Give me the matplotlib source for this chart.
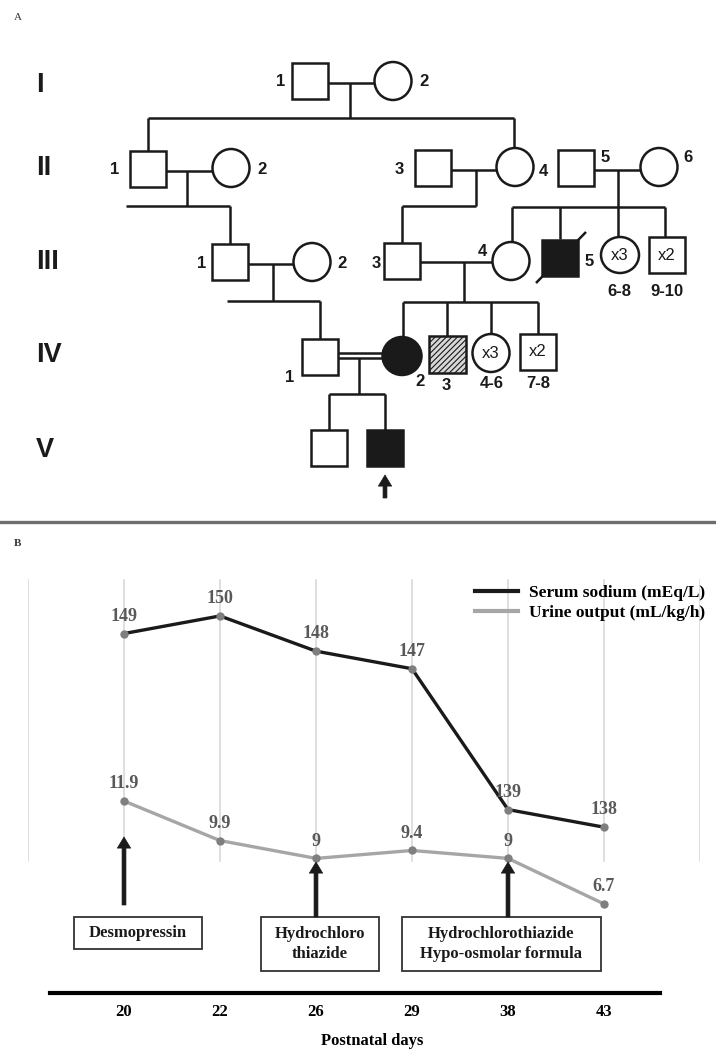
import matplotlib
matplotlib.use('Agg')
import matplotlib.pyplot as plt
from matplotlib.patches import Rectangle, Ellipse
from matplotlib.lines import Line2D

# panel B data
days = ['20', '22', '26', '29', '38', '43']
sodium = [149, 150, 148, 147, 139, 138]
urine = [11.9, 9.9, 9, 9.4, 9, 6.7]
sodium_name = 'Serum sodium (mEq/L)'
urine_name = 'Urine output (mL/kg/h)'
treat_idx = [0, 2, 4]
treat_text = ['Desmopressin', 'Hydrochloro\nthiazide', 'Hydrochlorothiazide\nHypo-osmolar formula']
generations = ['I', 'II', 'III', 'IV', 'V']

W, H = 716, 1059
fig = plt.figure(figsize=(W / 100, H / 100), dpi=100)
ov = fig.add_axes([0, 0, 1, 1])
ov.set_xlim(0, W)
ov.set_ylim(H, 0)
ov.axis('off')
ov.set_zorder(5)

INK = '#1a1a1a'
SANS = 'Liberation Sans'
SERIF = 'Liberation Serif'
ARROW = 'simple,head_width=1.2,head_length=1.0,tail_width=0.35'


def ln(xs, ys, lw=1.8):
    ov.plot(xs, ys, color=INK, lw=lw, solid_capstyle='butt')


def sq(x, y, s=36, fc='white', hatch=None, txt=None):
    ov.add_patch(Rectangle((x - s / 2, y - s / 2), s, s, fc=fc, ec=INK, lw=1.8, hatch=hatch, zorder=3))
    if txt:
        ov.text(x, y, txt, ha='center', va='center', fontsize=12, family=SANS, color=INK, zorder=4)


def ci(x, y, w=37, h=38, fc='white', txt=None):
    ov.add_patch(Ellipse((x, y), w, h, fc=fc, ec=INK, lw=1.8, zorder=3))
    if txt:
        ov.text(x, y, txt, ha='center', va='center', fontsize=12, family=SANS, color=INK, zorder=4)


def num(x, y, s):
    ov.text(x, y, s, ha='center', va='center', fontsize=12, family=SANS, fontweight='bold', color=INK)


def arrow(xp, y_tail, y_tip):
    ov.annotate('', xy=(xp, y_tip), xytext=(xp, y_tail),
                arrowprops=dict(arrowstyle=ARROW, fc=INK, ec=INK, lw=0.5,
                                shrinkA=0, shrinkB=0, mutation_scale=8))


# ---------------- panel A: pedigree ----------------
ov.text(14, 17, 'A', fontsize=8, family=SERIF, color='#333333', va='center')
for g, yy in zip(generations, [85, 168, 262, 355, 450]):
    ov.text(36, yy, g, fontsize=19.5, family=SANS, fontweight='bold', color=INK, va='center', ha='left')

# generation I
sq(310, 81); ci(393, 81)
num(281, 82, '1'); num(424, 82, '2')
ln([328, 374], [83, 83]); ln([350, 350], [83, 118])
ln([148, 514], [118, 118]); ln([148, 148], [118, 151]); ln([514, 514], [118, 149])

# generation II
sq(148, 169); ci(231, 168)
num(115, 170, '1'); num(262, 170, '2')
ln([166, 212], [171, 171]); ln([187, 187], [171, 206])
ln([126, 230], [206, 206]); ln([230, 230], [206, 244])
sq(433, 168); ci(515, 167)
num(399, 170, '3'); num(543, 171, '4')
ln([451, 497], [170, 170]); ln([476, 476], [170, 206])
ln([402, 476], [206, 206]); ln([402, 402], [206, 243])
sq(576, 168); ci(659, 167)
num(605, 158, '5'); num(688, 158, '6')
ln([594, 641], [170, 170]); ln([618, 618], [170, 237])
ln([512, 665], [207, 207])
for xx, yb in [(512, 242), (560, 239), (665, 237)]:
    ln([xx, xx], [207, yb])

# generation III
sq(230, 262); ci(312, 262)
num(202, 263, '1'); num(342, 263, '2')
ln([248, 294], [264, 264]); ln([273, 273], [264, 301])
ln([227, 320], [301, 301]); ln([320, 320], [301, 339])
sq(402, 261); ci(511, 261)
num(376, 263, '3'); num(482, 252, '4')
ln([420, 492], [262, 262]); ln([464, 464], [262, 302])
ln([403, 538], [302, 302])
for xx, yb in [(403, 337), (447, 336), (491, 334), (538, 334)]:
    ln([xx, xx], [302, yb])
sq(560, 258, fc=INK)
ln([536, 586], [283, 232])
num(589, 262, '5')
ci(620, 255, 38, 36, txt='x3'); num(619, 292, '6-8')
sq(667, 255, txt='x2'); num(667, 292, '9-10')

# generation IV
sq(320, 357)
num(290, 377, '1')
ln([338, 383], [353, 353]); ln([338, 383], [358, 358])
ln([359, 359], [358, 394])
ln([329, 385], [394, 394]); ln([329, 329], [394, 430]); ln([385, 385], [394, 430])
ci(402, 356, 39, 38, fc=INK)
num(420, 382, '2')
plt.rcParams['hatch.linewidth'] = 0.8
plt.rcParams['hatch.color'] = '#333333'
sq(447, 354, 37, fc='#d8d8d8', hatch='//////')
num(446, 385, '3')
ci(491, 353, txt='x3'); num(492, 384, '4-6')
sq(538, 352, txt='x2'); num(538, 384, '7-8')

# generation V
sq(329, 448); sq(385, 448, fc=INK)
arrow(385, 498, 475)

# separator
ov.plot([0, W], [522, 522], color='#6e6e6e', lw=2.4)

# ---------------- panel B: chart ----------------
ov.text(14, 543, 'B', fontsize=8, family=SERIF, fontweight='bold', color='#333333', va='center')

top_px, bot_px, left_px, right_px = 570, 993, 28, 700
ax = fig.add_axes([left_px / W, (H - bot_px) / H, (right_px - left_px) / W, (bot_px - top_px) / H])
ax.patch.set_visible(False)
ax2 = ax.twinx()
x = list(range(len(days)))
ax.set_xlim(-1, len(days))
ax.set_ylim(128.58, 152.61)
ax2.set_ylim(2.20, 23.57)

for g in range(-1, len(days) + 1):
    ax.axvline(g, ymin=0.312, ymax=0.976, color='#d9d9d9', lw=1.2, zorder=0)

ax.plot(x, sodium, color=INK, lw=2.4, zorder=3)
ax.plot(x, sodium, 'o', color='#7f7f7f', ms=5, zorder=4)
ax2.plot(x, urine, color='#a6a6a6', lw=2.4, zorder=3)
ax2.plot(x, urine, 'o', color='#7f7f7f', ms=5, zorder=4)

for xi, v in zip(x, sodium):
    ax.annotate(f'{v:g}', (xi, v), xytext=(0, 12.5), textcoords='offset points', ha='center', va='center',
                fontsize=13, family=SERIF, fontweight='bold', color='#595959')
for xi, v in zip(x, urine):
    ax2.annotate(f'{v:g}', (xi, v), xytext=(0, 12.5), textcoords='offset points', ha='center', va='center',
                 fontsize=13, family=SERIF, fontweight='bold', color='#595959')

for a in (ax, ax2):
    for s in ['top', 'left', 'right', 'bottom']:
        a.spines[s].set_visible(False)
    a.set_yticks([])
ax.spines['bottom'].set_visible(True)
ax.spines['bottom'].set_bounds(-0.77, 5.58)
ax.spines['bottom'].set_linewidth(3)
ax.spines['bottom'].set_color('black')
ax.set_xticks(x)
ax.set_xticklabels(days, fontsize=12, family=SERIF, fontweight='bold')
ax.tick_params(axis='x', length=0, pad=8)
ax.set_xlabel('Postnatal days', fontsize=12, family=SERIF, fontweight='bold', va='top')
ax.xaxis.set_label_coords(0.512, -0.095)

handles = [Line2D([], [], color=INK, lw=3), Line2D([], [], color='#a6a6a6', lw=3)]
leg = ax2.legend(handles, [sodium_name, urine_name], loc='upper left',
                 bbox_to_anchor=((475 - left_px) / (right_px - left_px), (bot_px - 585) / (bot_px - top_px)),
                 frameon=False, borderpad=0, borderaxespad=0, handlelength=2.5, handletextpad=0.6,
                 labelspacing=0.2, prop=dict(family=SERIF, weight='bold', size=12.5))

# treatment arrows and boxes
box_w = [128, 118, 199]
arrow_tail = [905, 917, 917]
arrow_tip = [837, 862, 862]
box_cx = [138, 320, 501]
for i, t, bw, yt, yh, cx in zip(treat_idx, treat_text, box_w, arrow_tail, arrow_tip, box_cx):
    xp = left_px + (i + 1) * (right_px - left_px) / (len(days) + 1)
    arrow(xp, yt, yh)
    nlines = t.count('\n') + 1
    ov.text(cx, 917 + (16 if nlines == 1 else 27), t, ha='center', va='center', fontsize=12,
            family=SERIF, fontweight='bold', color=INK, linespacing=1.35)
    bh = 32 if nlines == 1 else 54
    ov.add_patch(Rectangle((cx - bw / 2, 917), bw, bh, fc='none', ec='#333333', lw=1.3))

fig.savefig('out.png', dpi=100)
